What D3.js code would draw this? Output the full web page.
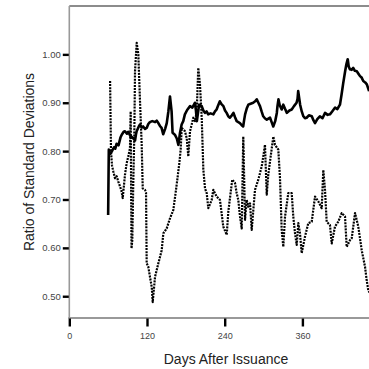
<!DOCTYPE html>
<html>
<head>
<meta charset="utf-8">
<script src="https://cdn.jsdelivr.net/npm/d3@7"></script>
<style>
  html, body { margin: 0; padding: 0; background: #fff; }
  svg { display: block; font-family: Arial, "Liberation Sans", sans-serif; }
</style>
</head>
<body>
<svg id="chart" width="369" height="369"></svg>
<script>
// Ratio series, days after issuance
const solidDays = [60, 61, 63, 65.5, 69, 71, 73, 76, 79, 81, 84, 86, 89, 91, 94, 96, 99, 101.5, 103, 104, 107, 109, 112, 114, 117, 119.5, 122, 124.5, 128, 132.5, 135, 137.5, 140, 142.5, 145, 148, 150.5, 153, 155.5, 158, 159.5, 163, 166, 168.5, 171, 173.5, 176, 178.5, 182, 186.5, 190, 194, 195.5, 197, 200.5, 204.5, 207, 209.5, 212, 214.5, 218, 222.5, 225, 227.5, 230, 232.5, 235, 238, 240.5, 243, 245.5, 248, 251, 253.5, 256, 258.5, 261, 263.5, 266, 268.5, 270, 271.5, 274, 276.5, 280, 284, 287, 289.5, 292, 294.5, 297, 299.5, 302, 305, 307.5, 310, 312.5, 315, 318, 320.5, 321.5, 323, 325, 328, 330.5, 333, 336, 340, 343.5, 347, 351, 352.5, 353.5, 355, 356.5, 359, 361.5, 364, 366.5, 370, 374.5, 377, 379.5, 383, 387, 391, 395, 399, 402.5, 406, 410.5, 414, 418, 420.5, 423, 426, 428, 430, 431.5, 433.5, 436, 438.5, 441, 444, 446.5, 449, 451.5, 454, 457, 459.5, 463];
const solidRatio = [0.668, 0.803, 0.794, 0.799, 0.808, 0.805, 0.815, 0.812, 0.828, 0.834, 0.840, 0.841, 0.836, 0.840, 0.832, 0.830, 0.826, 0.822, 0.835, 0.841, 0.850, 0.855, 0.849, 0.851, 0.846, 0.848, 0.856, 0.860, 0.862, 0.860, 0.863, 0.858, 0.852, 0.848, 0.835, 0.846, 0.858, 0.882, 0.913, 0.882, 0.838, 0.834, 0.826, 0.813, 0.838, 0.855, 0.862, 0.876, 0.885, 0.893, 0.890, 0.900, 0.885, 0.862, 0.896, 0.893, 0.884, 0.879, 0.882, 0.876, 0.878, 0.876, 0.882, 0.886, 0.895, 0.903, 0.897, 0.893, 0.884, 0.879, 0.872, 0.869, 0.874, 0.879, 0.870, 0.862, 0.860, 0.858, 0.854, 0.851, 0.864, 0.876, 0.888, 0.896, 0.898, 0.900, 0.903, 0.907, 0.900, 0.893, 0.882, 0.872, 0.868, 0.865, 0.867, 0.869, 0.860, 0.851, 0.862, 0.879, 0.893, 0.907, 0.895, 0.886, 0.896, 0.888, 0.879, 0.884, 0.886, 0.893, 0.900, 0.908, 0.924, 0.910, 0.896, 0.882, 0.872, 0.868, 0.869, 0.874, 0.872, 0.864, 0.858, 0.866, 0.872, 0.868, 0.879, 0.875, 0.876, 0.882, 0.890, 0.887, 0.896, 0.917, 0.940, 0.965, 0.980, 0.990, 0.975, 0.969, 0.968, 0.972, 0.966, 0.965, 0.960, 0.955, 0.952, 0.945, 0.942, 0.938, 0.924];

const dottedDays = [63, 64.4, 66, 68, 70.6, 73.2, 75.7, 78.3, 80.5, 82.5, 86, 88.6, 91.1, 93.7, 94.8, 95.6, 96.1, 97.3, 98.8, 100.4, 101.5, 104.1, 106.6, 109.2, 111.8, 113.4, 116.9, 118.5, 119.5, 122, 124.6, 127.3, 128.8, 132.4, 137.5, 142.7, 145.2, 150.4, 155.5, 160.6, 164.8, 166.8, 169.9, 172, 173.6, 178.7, 181.3, 183.8, 186.4, 189, 191.5, 194.1, 196.8, 199.2, 201.8, 204.5, 207, 209.6, 212.2, 214.7, 219.9, 222.4, 227.6, 232.7, 237.8, 243.1, 245.6, 249.7, 251.7, 255.9, 258.5, 261, 263.6, 266.3, 268.7, 271.4, 274, 276.4, 279.1, 281.7, 284.2, 286.8, 291.9, 297.1, 299.6, 302.2, 304.9, 307.3, 310, 315.1, 317.7, 322.8, 325.4, 328, 330.5, 333.2, 338.2, 343.5, 345.9, 348.6, 351.2, 353.7, 356.3, 358.9, 364, 369.1, 374.4, 379.5, 384.6, 389.8, 392.3, 394.9, 397.5, 402.6, 405.3, 410.3, 415.4, 420.7, 425.8, 428.4, 433.5, 436.2, 441.3, 446.3, 451.6, 456.7, 459.3, 461.8, 463.6];
const dottedRatio = [0.945, 0.799, 0.770, 0.758, 0.744, 0.748, 0.737, 0.727, 0.718, 0.703, 0.751, 0.775, 0.789, 0.806, 0.882, 0.699, 0.599, 0.616, 0.734, 0.834, 0.965, 1.024, 1.000, 0.903, 0.813, 0.723, 0.720, 0.714, 0.568, 0.561, 0.540, 0.519, 0.488, 0.540, 0.568, 0.595, 0.630, 0.640, 0.661, 0.678, 0.720, 0.741, 0.775, 0.803, 0.848, 0.841, 0.827, 0.789, 0.841, 0.855, 0.869, 0.862, 0.882, 0.972, 0.938, 0.869, 0.762, 0.723, 0.713, 0.682, 0.699, 0.720, 0.706, 0.699, 0.644, 0.627, 0.675, 0.720, 0.741, 0.734, 0.713, 0.699, 0.665, 0.640, 0.830, 0.658, 0.699, 0.685, 0.692, 0.637, 0.678, 0.720, 0.741, 0.768, 0.789, 0.813, 0.710, 0.751, 0.779, 0.830, 0.813, 0.803, 0.744, 0.637, 0.602, 0.665, 0.713, 0.713, 0.665, 0.630, 0.606, 0.651, 0.630, 0.589, 0.623, 0.651, 0.654, 0.706, 0.696, 0.682, 0.761, 0.720, 0.654, 0.647, 0.609, 0.644, 0.654, 0.672, 0.665, 0.602, 0.616, 0.620, 0.672, 0.644, 0.595, 0.561, 0.533, 0.512, 0.508];

const xTicks = [0, 120, 240, 360];
const yTicks = [0.50, 0.60, 0.70, 0.80, 0.90, 1.00];

const svg = d3.select("#chart");
const plotLeft = 69.3, plotTop = 6, plotBottom = 318;

const x = d3.scaleLinear().domain([0, 480]).range([plotLeft, plotLeft + 480 * 0.6475]);
const y = d3.scaleLinear().domain([0.455, 1.10]).range([plotBottom, plotTop]);

// frame: top border and axis lines
svg.append("line").attr("x1", plotLeft).attr("x2", 369).attr("y1", plotTop).attr("y2", plotTop)
  .attr("stroke", "#666").attr("stroke-width", 1.5);
svg.append("line").attr("x1", plotLeft).attr("x2", plotLeft).attr("y1", plotTop).attr("y2", plotBottom)
  .attr("stroke", "#999").attr("stroke-width", 1.6);
svg.append("line").attr("x1", plotLeft - 1).attr("x2", 369).attr("y1", plotBottom).attr("y2", plotBottom)
  .attr("stroke", "#999").attr("stroke-width", 2);

// y axis ticks
const yAxis = d3.axisLeft(y).tickValues(yTicks).tickFormat(d3.format(".2f")).tickSize(6).tickPadding(2);
const gy = svg.append("g").attr("transform", `translate(${plotLeft - 0.5},0)`).call(yAxis);
gy.select(".domain").remove();
gy.selectAll(".tick line").attr("stroke", "#000").attr("stroke-width", 2.4);
gy.selectAll(".tick text").attr("fill", "#444").style("font-size", "9.5px");

// x axis ticks
const xAxis = d3.axisBottom(x).tickValues(xTicks).tickFormat(d3.format("d")).tickSize(8).tickPadding(6);
const gx = svg.append("g").attr("transform", `translate(0,${plotBottom + 0.5})`).call(xAxis);
gx.select(".domain").remove();
gx.selectAll(".tick line").attr("stroke", "#000").attr("stroke-width", 2.4);
gx.selectAll(".tick text").attr("fill", "#444").style("font-size", "9px");

// axis titles
svg.append("text").attr("x", 226).attr("y", 364).attr("text-anchor", "middle")
  .attr("fill", "#222").style("font-size", "14px").text("Days After Issuance");
svg.append("text").attr("transform", `translate(34,162) rotate(-90)`).attr("text-anchor", "middle")
  .attr("fill", "#222").style("font-size", "14px").text("Ratio of Standard Deviations");

// series
const line = d3.line().x(d => x(d[0])).y(d => y(d[1]));
const dotted = dottedDays.map((d, i) => [d, dottedRatio[i]]);
const solid = solidDays.map((d, i) => [d, solidRatio[i]]);

svg.append("path").datum(dotted).attr("d", line)
  .attr("fill", "none").attr("stroke", "#000").attr("stroke-width", 2.2)
  .attr("stroke-dasharray", "2,1.1").attr("stroke-linejoin", "round");
svg.append("path").datum(solid).attr("d", line)
  .attr("fill", "none").attr("stroke", "#000").attr("stroke-width", 2.6)
  .attr("stroke-linejoin", "round");
</script>
</body>
</html>
